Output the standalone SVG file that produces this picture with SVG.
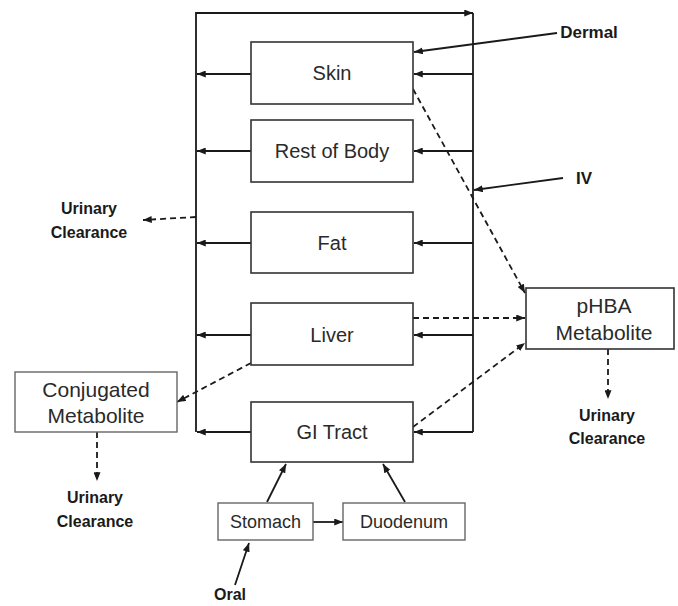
<svg xmlns="http://www.w3.org/2000/svg" width="678" height="606" viewBox="0 0 678 606">
<defs>
<marker id="ah" viewBox="0 0 10 8" refX="10" refY="4" markerWidth="9" markerHeight="7" markerUnits="userSpaceOnUse" orient="auto">
<path d="M0,0 L10,4 L0,8 z" fill="#1a1a1a"/>
</marker>
<style>
.box{fill:#fff;stroke:#333;stroke-width:1.6}
.lbox{fill:#fff;stroke:#666;stroke-width:1.4}
.t{font-family:"Liberation Sans",Arial,sans-serif;font-size:20px;fill:#2a2a2a;text-anchor:middle}
.ts{font-family:"Liberation Sans",Arial,sans-serif;font-size:18px;fill:#2a2a2a;text-anchor:middle}
.b{font-family:"Liberation Sans",Arial,sans-serif;font-size:16px;font-weight:bold;fill:#1a1a1a;text-anchor:middle}
.ln{fill:none;stroke:#1a1a1a;stroke-width:1.8}
.ar{fill:none;stroke:#1a1a1a;stroke-width:1.8;marker-end:url(#ah)}
.da{fill:none;stroke:#1a1a1a;stroke-width:1.8;stroke-dasharray:6 4;marker-end:url(#ah)}
</style>
</defs>
<rect width="678" height="606" fill="#fff"/>
<g id="connectors">
<path class="ar" d="M196,432 V13 H473"/>
<path class="ln" d="M473,13 V432"/>
<path class="ar" d="M251,74 H197"/>
<path class="ar" d="M251,151 H197"/>
<path class="ar" d="M251,243 H197"/>
<path class="ar" d="M251,335 H197"/>
<path class="ar" d="M251,432 H197"/>
<path class="ar" d="M473,74 H414"/>
<path class="ar" d="M473,151 H414"/>
<path class="ar" d="M473,243 H414"/>
<path class="ar" d="M473,335 H414"/>
<path class="ar" d="M473,432 H414"/>
<path class="ar" d="M557,33 L414,52"/>
<path class="ar" d="M563,178 L474,190"/>
<path class="da" d="M196,217 L143,220"/>
<path class="da" d="M413,89 L525,293"/>
<path class="da" d="M413,318 L525,318"/>
<path class="da" d="M413,427 L525,343"/>
<path class="da" d="M251,363 L177,402"/>
<path class="da" d="M97,432 L97,481"/>
<path class="da" d="M608,349 L608,399"/>
<path class="ar" d="M267,502 L286,464"/>
<path class="ar" d="M405,502 L383,464"/>
<path class="ar" d="M313,522 L343,522"/>
<path class="ar" d="M235,585 L249,543"/>
</g>
<g id="skin"><rect class="box" x="251" y="42" width="162" height="62"/><text class="t" x="332" y="80">Skin</text></g>
<g id="rest-of-body"><rect class="box" x="251" y="120" width="162" height="62"/><text class="t" x="332" y="158">Rest of Body</text></g>
<g id="fat"><rect class="box" x="251" y="212" width="162" height="61"/><text class="t" x="332" y="250">Fat</text></g>
<g id="liver"><rect class="box" x="251" y="303" width="162" height="62"/><text class="t" x="332" y="342">Liver</text></g>
<g id="gi-tract"><rect class="box" x="251" y="402" width="162" height="60"/><text class="t" x="332" y="439">GI Tract</text></g>
<g id="conjugated-metabolite"><rect class="lbox" x="15" y="372" width="162" height="60"/><text class="t" x="96" y="397" style="font-size:21px">Conjugated</text><text class="t" x="96" y="423" style="font-size:21px">Metabolite</text></g>
<g id="phba-metabolite"><rect class="box" x="526" y="288" width="148" height="61"/><text class="t" x="604" y="313" style="font-size:21px">pHBA</text><text class="t" x="604" y="340" style="font-size:21px">Metabolite</text></g>
<g id="stomach"><rect class="lbox" x="218" y="503" width="95" height="37"/><text class="ts" x="265.5" y="528">Stomach</text></g>
<g id="duodenum"><rect class="lbox" x="343" y="503" width="122" height="37"/><text class="ts" x="404" y="528">Duodenum</text></g>
<g id="dermal"><text class="b" x="589" y="38" style="font-size:17px">Dermal</text></g>
<g id="iv"><text class="b" x="584" y="184" style="font-size:17px">IV</text></g>
<g id="urinary-left"><text class="b" x="89" y="214">Urinary</text><text class="b" x="89" y="238">Clearance</text></g>
<g id="urinary-right"><text class="b" x="607" y="421">Urinary</text><text class="b" x="607" y="444">Clearance</text></g>
<g id="urinary-bottom"><text class="b" x="95" y="503">Urinary</text><text class="b" x="95" y="527">Clearance</text></g>
<g id="oral"><text class="b" x="230" y="600">Oral</text></g>
</svg>
